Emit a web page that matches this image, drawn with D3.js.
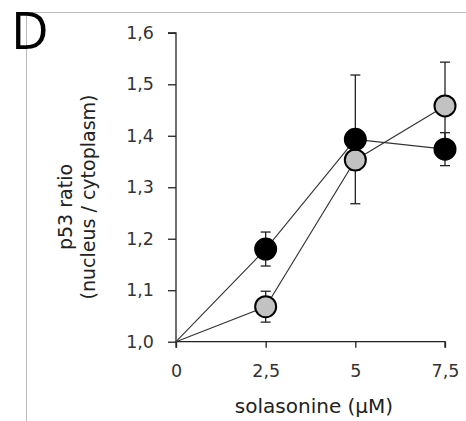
<!DOCTYPE html>
<html><head><meta charset="utf-8">
<script src="https://cdn.jsdelivr.net/npm/d3@7"></script>
<style>html,body{margin:0;padding:0;background:#fff;}</style>
</head><body>
<svg id="c" width="466" height="421"></svg>
<script>
const concentrations = [0, 2.5, 5, 7.5];
const xTickLabels = ["0", "2,5", "5", "7,5"];
const yTicks = [1.0, 1.1, 1.2, 1.3, 1.4, 1.5, 1.6];
const blackValues = [1.0, 1.18, 1.393, 1.374];
const blackErrors = [0, 0.033, 0.125, 0.032];
const grayValues = [1.0, 1.068, 1.353, 1.458];
const grayErrors = [0, 0.03, 0.02, 0.085];

const svg = d3.select("#c");
const font = "DejaVu Sans, sans-serif";
const x = d3.scaleLinear().domain([0, 7.5]).range([176, 445]);
const y = d3.scaleLinear().domain([1.0, 1.6]).range([341.7, 32.8]);

// frame lines
svg.append("line").attr("x1", 26.5).attr("x2", 466).attr("y1", 12.5).attr("y2", 12.5).attr("stroke", "#b8b8b8").attr("stroke-width", 1);
svg.append("line").attr("x1", 26.5).attr("x2", 26.5).attr("y1", 12.5).attr("y2", 421).attr("stroke", "#b8b8b8").attr("stroke-width", 1);

svg.append("text").attr("x", 11).attr("y", 49).attr("font-family", "Open Sans, sans-serif").attr("font-size", 52).attr("fill", "#000").text("D");

// axes
const yAxis = d3.axisLeft(y).tickValues(yTicks).tickSize(8).tickPadding(14)
  .tickFormat(d => d3.format(".1f")(d).replace(".", ","));
const gy = svg.append("g").attr("transform", "translate(176,0)").call(yAxis);
const xAxis = d3.axisBottom(x).tickValues(concentrations).tickSize(6).tickPadding(17)
  .tickFormat((d, i) => xTickLabels[i]);
const gx = svg.append("g").attr("transform", "translate(0,341.7)").call(xAxis);
[gx, gy].forEach(g => {
  g.select(".domain").attr("stroke", "#222").attr("stroke-width", 1.3);
  g.selectAll(".tick line").attr("stroke", "#222").attr("stroke-width", 1.3);
  g.selectAll(".tick text").attr("font-family", font).attr("font-size", 17.5).attr("fill", "#333");
});
gy.select(".domain").attr("d", `M-8,${y(1.6)}H0V${y(1.0)}`);
gx.select(".domain").attr("d", `M${x(0)},6V0H${x(7.5)}V6`);

// axis labels
svg.append("text").attr("x", 314).attr("y", 413).attr("text-anchor", "middle")
  .attr("font-family", font).attr("font-size", 20).attr("fill", "#222").text("solasonine (µM)");
svg.append("text").attr("transform", "translate(72,207) rotate(-90)")
  .attr("text-anchor", "middle").attr("font-family", font).attr("font-size", 19).attr("fill", "#222").text("p53 ratio");
svg.append("text").attr("transform", "translate(95,197) rotate(-90)")
  .attr("text-anchor", "middle").attr("font-family", font).attr("font-size", 19).attr("fill", "#222").text("(nucleus / cytoplasm)");

const series = [
  {vals: grayValues, errs: grayErrors, fill: "#c2c2c2"},
  {vals: blackValues, errs: blackErrors, fill: "#000"}
];
const line = d3.line().x((d, i) => x(concentrations[i])).y(d => y(d));
series.forEach(s => {
  svg.append("path").attr("d", line(s.vals)).attr("fill", "none").attr("stroke", "#333").attr("stroke-width", 1.1);
});
series.forEach(s => {
  s.vals.forEach((v, i) => {
    if (!s.errs[i]) return;
    const cx = x(concentrations[i]);
    const g = svg.append("g").attr("stroke", "#222").attr("stroke-width", 1.3);
    g.append("line").attr("x1", cx).attr("x2", cx).attr("y1", y(v - s.errs[i])).attr("y2", y(v + s.errs[i]));
    [v - s.errs[i], v + s.errs[i]].forEach(e => g.append("line").attr("x1", cx - 5).attr("x2", cx + 5).attr("y1", y(e)).attr("y2", y(e)));
  });
});
series.forEach(s => {
  s.vals.forEach((v, i) => {
    if (i === 0) return;
    svg.append("circle").attr("cx", x(concentrations[i])).attr("cy", y(v)).attr("r", 10.5)
      .attr("fill", s.fill).attr("stroke", "#000").attr("stroke-width", 2);
  });
});
</script>
</body></html>
